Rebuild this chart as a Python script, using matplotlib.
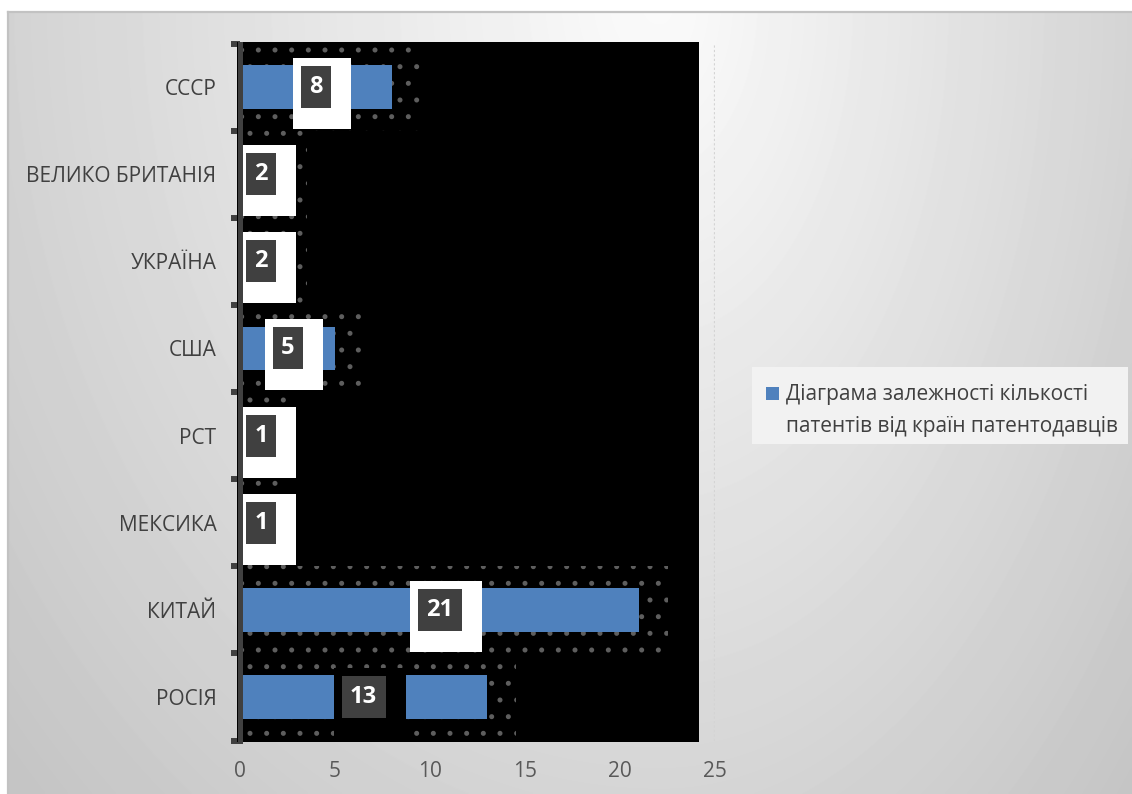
import numpy as np
import matplotlib
matplotlib.use("Agg")
import matplotlib.pyplot as plt
from matplotlib.patches import Rectangle
from matplotlib.transforms import IdentityTransform

# ---- data ----
countries = ["СССР", "ВЕЛИКО БРИТАНІЯ", "УКРАЇНА", "США", "РСТ", "МЕКСИКА", "КИТАЙ", "РОСІЯ"]
patents = [8, 2, 2, 5, 1, 1, 21, 13]
x_ticks = [0, 5, 10, 15, 20, 25]
legend_lines = ["Діаграма залежності кількості", "патентів від країн патентодавців"]

# ---- style ----
BAR_COLOR = "#4f81bd"
TEXT_COLOR = "#404040"
label_outer = ["white"] * 7 + ["black"]

W, H, DPI = 1132, 794, 100
plt.rcParams["font.family"] = ["Open Sans", "DejaVu Sans"]
plt.rcParams["hatch.linewidth"] = 1.2

fig = plt.figure(figsize=(W / DPI, H / DPI), dpi=DPI, facecolor="white")


def px(x0, y0, x1, y1):
    """pixel box (top-left origin) -> figure-fraction rect"""
    return [x0 / W, 1 - y1 / H, (x1 - x0) / W, (y1 - y0) / H]


# ---- chart-area background with soft radial shading ----
bg = fig.add_axes(px(8, 12, W, H), zorder=-5)
yy, xx = np.mgrid[12:H, 8:W].astype(float)
cx, cy = 660.0, 0.0
sx = np.where(xx < cx, 700.0, 520.0)
r = np.sqrt(((xx - cx) / sx) ** 2 + ((yy - cy) / 900.0) ** 2)
shade = np.clip(0.985 - 0.17 * r, 0.77, 1.0)
bg.imshow(shade, cmap="gray", vmin=0, vmax=1, aspect="auto", interpolation="bilinear")
bg.set_xticks([])
bg.set_yticks([])
for side in ("right", "bottom"):
    bg.spines[side].set_visible(False)
for side in ("top", "left"):
    bg.spines[side].set_color("#c2c2c2")
    bg.spines[side].set_linewidth(1.6)

# ---- plot ----
n = len(countries)
ypos = np.arange(n)
ax = fig.add_axes(px(240, 43.5, 715, 740.5))
ax.patch.set_alpha(0)
ax.set_xlim(0, 25)
ax.set_ylim(n - 0.5, -0.5)

# plot-area fill
ax.add_patch(Rectangle((-0.16, -0.52), 24.32, n + 0.04, facecolor="black",
                       edgecolor="none", zorder=0.6, clip_on=False))

# gridlines (only the one beyond the dark fill stays visible)
ax.set_axisbelow(True)
ax.set_xticks(x_ticks)
ax.xaxis.grid(True, color="#d4d4d4", linewidth=1.6, linestyle=(0, (1, 1)))

# dotted halo around every bar
for i, v in zip(ypos, patents):
    ax.add_patch(Rectangle((0, i - 0.5), v + 1.5, 1.0, facecolor="none",
                           edgecolor="#5e5e5e", hatch=".", linewidth=0, zorder=0.8))

ax.barh(ypos, patents, height=0.5, color=BAR_COLOR, zorder=2)

# value labels: dark tag on an offset white card
fig.canvas.draw()
left_px = ax.transData.transform((0, 0))[0]
for i, v, outer in zip(ypos, patents, label_outer):
    cxp, cyp = ax.transData.transform((v / 2, i))
    w = 30 if v < 10 else 44
    h = 42
    cxp = max(cxp, left_px + 6 + w / 2)
    dx0, dy0 = cxp - w / 2, cyp - h / 2
    ax.add_patch(Rectangle((dx0 - 8, dy0 - 21), w + 28, h + 29, facecolor=outer,
                           edgecolor="none", transform=IdentityTransform(),
                           zorder=3, clip_on=False))
    ax.add_patch(Rectangle((dx0, dy0), w, h, facecolor="#404040", edgecolor="none",
                           transform=IdentityTransform(), zorder=4, clip_on=False))
    ax.text(cxp, cyp, str(v), transform=IdentityTransform(), ha="center", va="center",
            color="white", fontsize=17, fontweight="bold", zorder=5)

ax.set_xlim(0, 25)
ax.set_ylim(n - 0.5, -0.5)

# axes and ticks
for side in ("top", "right", "bottom"):
    ax.spines[side].set_visible(False)
ax.spines["left"].set_color("#404040")
ax.spines["left"].set_linewidth(3.6)
ax.spines["left"].set_zorder(6)

ax.set_yticks(np.arange(n + 1) - 0.5)
ax.set_yticklabels([])
ax.set_yticks(ypos, minor=True)
ax.set_yticklabels(countries, minor=True)
ax.tick_params(axis="y", which="major", length=6.5, width=4.3, color="#404040")
ax.tick_params(axis="y", which="minor", length=0, pad=17, labelsize=15,
               labelcolor=TEXT_COLOR)
ax.tick_params(axis="x", length=0, pad=15, labelsize=15, labelcolor="#595959")

# ---- legend ----
fig.add_artist(Rectangle((752 / W, 1 - 444 / H), 376 / W, 77 / H, facecolor="#f2f2f2",
                         edgecolor="none", transform=fig.transFigure))
fig.add_artist(Rectangle((766 / W, 1 - 400 / H), 13 / W, 13 / H, facecolor=BAR_COLOR,
                         edgecolor="none", transform=fig.transFigure))
fig.text(786 / W, 1 - 395 / H, legend_lines[0], ha="left", va="center",
         fontsize=15, color=TEXT_COLOR)
fig.text(786 / W, 1 - 427 / H, legend_lines[1], ha="left", va="center",
         fontsize=15, color=TEXT_COLOR)

fig.savefig("out.png", dpi=DPI, facecolor="white")
